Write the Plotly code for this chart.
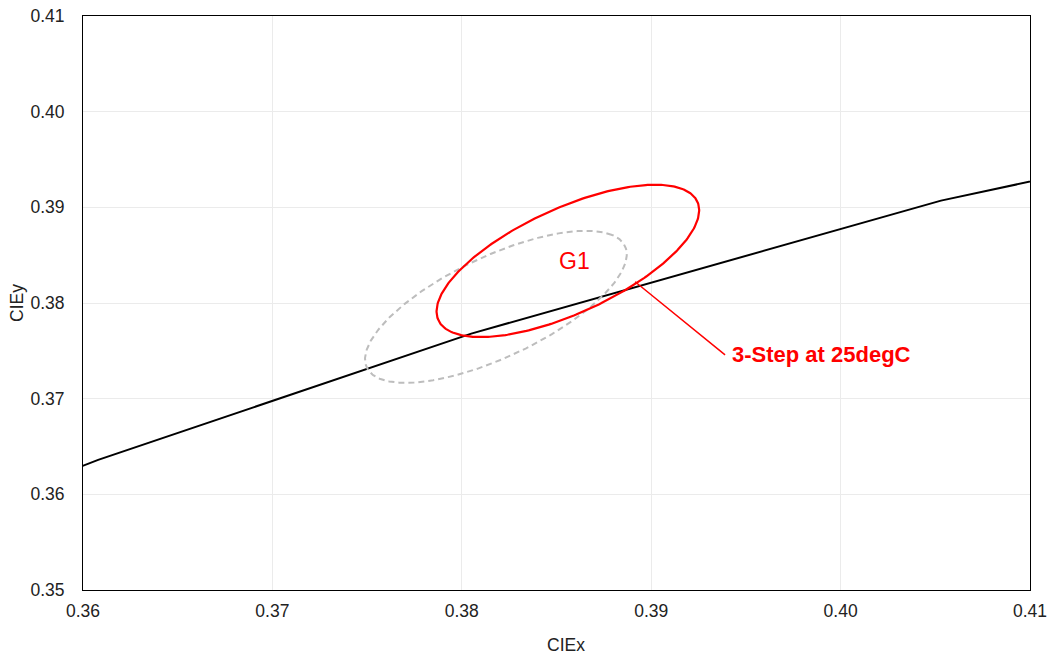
import numpy as np
import plotly.graph_objects as go

# Planckian locus points (CIE x, y) at 5000K, 4500K, 4000K, 3500K, 3000K
locus_x = [0.3451, 0.3608, 0.3805, 0.4053, 0.4369]
locus_y = [0.3516, 0.3636, 0.3768, 0.3907, 0.4041]

# Ellipse parameters: centre x, centre y, semi-major a, semi-minor b, angle (deg)
gray_ellipse = [0.3818, 0.3796, 0.0097, 0.0041, 50.75]
red_ellipse = [0.3856, 0.3844, 0.00965, 0.00428, 50.9]

label_g1 = "G1"
label_g1_pos = [0.38595, 0.38440]
callout_text = "3-Step at 25degC"
callout_point = [0.38915, 0.38222]
callout_tail = [0.39390, 0.37457]

x_ticks = [0.36, 0.37, 0.38, 0.39, 0.40, 0.41]
y_ticks = [0.35, 0.36, 0.37, 0.38, 0.39, 0.40, 0.41]
x_title = "CIEx"
y_title = "CIEy"


def ellipse_pts(p, n=361):
    cx, cy, a, b, th = p
    th = np.radians(th)
    t = np.linspace(0, 2 * np.pi, n)
    x = cx + a * np.cos(th) * np.cos(t) - b * np.sin(th) * np.sin(t)
    y = cy + a * np.sin(th) * np.cos(t) + b * np.cos(th) * np.sin(t)
    return x, y


FONT = "Liberation Sans, Arial"
TXT = "#222222"
fig = go.Figure()
fig.add_trace(go.Scatter(x=locus_x, y=locus_y, mode="lines",
                         line=dict(color="black", width=2), showlegend=False))
gx, gy = ellipse_pts(gray_ellipse)
fig.add_trace(go.Scatter(x=gx, y=gy, mode="lines",
                         line=dict(color="#bdbdbd", width=2, dash="6px,4px"),
                         showlegend=False))
rx, ry = ellipse_pts(red_ellipse)
fig.add_trace(go.Scatter(x=rx, y=ry, mode="lines",
                         line=dict(color="#ff0000", width=2.2), showlegend=False))

fig.add_annotation(x=label_g1_pos[0], y=label_g1_pos[1], text=label_g1,
                   showarrow=False, font=dict(family=FONT, size=23, color="#ff0000"))
fig.add_annotation(x=callout_point[0], y=callout_point[1], ax=callout_tail[0], ay=callout_tail[1],
                   axref="x", ayref="y", xanchor="left", yanchor="middle",
                   text="<b>" + callout_text + "</b>", showarrow=True, arrowhead=0,
                   arrowwidth=1.5, arrowcolor="#ff0000", borderpad=6,
                   font=dict(family=FONT, size=22, color="#ff0000"))
# axis titles
fig.add_annotation(xref="paper", yref="paper", x=0.51, y=-0.096, text=x_title,
                   showarrow=False, xanchor="center", yanchor="middle",
                   font=dict(family=FONT, size=17.5, color=TXT))
fig.add_annotation(xref="paper", yref="paper", x=-0.0697, y=0.5, text=y_title,
                   showarrow=False, textangle=-90, xanchor="center", yanchor="middle",
                   font=dict(family=FONT, size=17.5, color=TXT))

axis_common = dict(showline=True, linecolor="black", linewidth=1, mirror=True,
                   showgrid=True, gridcolor="#ebebeb", gridwidth=1, zeroline=False,
                   automargin=False, ticks="",
                   tickfont=dict(family=FONT, size=17.5, color=TXT))
fig.update_xaxes(range=[0.36, 0.41], tickvals=x_ticks,
                 ticktext=[f"{v:.2f}" for v in x_ticks], ticklabelstandoff=5,
                 **axis_common)
fig.update_yaxes(range=[0.35, 0.41], tickvals=y_ticks,
                 ticktext=[f"{v:.2f}" for v in y_ticks], ticklabelstandoff=14,
                 **axis_common)
fig.update_layout(width=1048, height=655, margin=dict(l=83, r=18, t=16, b=65),
                  plot_bgcolor="white", paper_bgcolor="white", showlegend=False)
fig.write_html("out.html", config={"displayModeBar": False},
               post_script="document.body.style.margin='0';document.body.style.overflow='hidden';")
